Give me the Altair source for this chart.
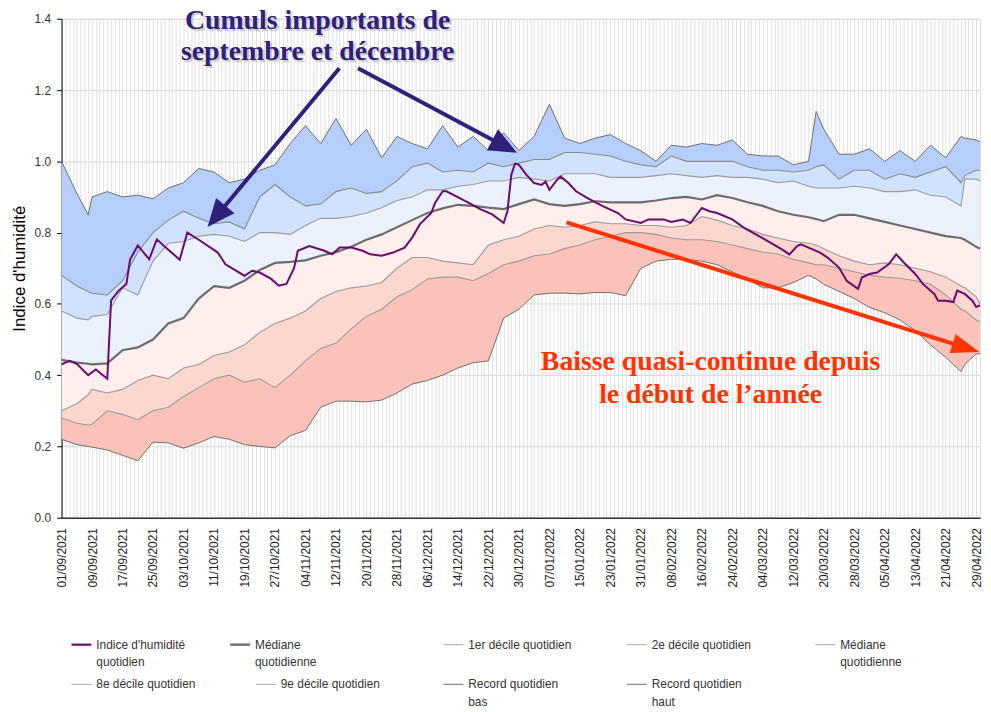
import math
import altair as alt
import pandas as pd

# ---------------- data ----------------
START_DATE = "2021-09-01"  # day 0
days = [0, 4, 7, 8, 12, 16, 20, 24, 28, 32, 36, 40, 44, 48, 52, 56, 60, 64, 68, 72,
        76, 80, 84, 88, 92, 96, 100, 104, 108, 112, 116, 120, 124, 128, 132, 136, 140, 144, 148, 152,
        156, 160, 164, 168, 172, 176, 180, 184, 188, 192, 196, 198, 200, 204, 208, 212, 216, 220, 224, 228,
        232, 236, 237, 240, 241]
record_high = [1.00, 0.91, 0.85, 0.90, 0.915, 0.90, 0.905, 0.895, 0.925, 0.94,
               0.98, 0.97, 0.94, 0.95, 0.975, 0.99, 1.05, 1.10, 1.05, 1.12,
               1.045, 1.09, 1.01, 1.07, 1.05, 1.035, 1.10, 1.04, 1.07, 1.03,
               1.08, 1.03, 1.07, 1.16, 1.065, 1.05, 1.065, 1.075, 1.05, 1.03,
               1.00, 1.045, 1.04, 1.05, 1.045, 1.06, 1.02, 1.015, 1.015, 0.99,
               1.00, 1.14, 1.09, 1.02, 1.02, 1.035, 1.00, 1.03, 1.00, 1.045,
               1.01, 1.07, 1.065, 1.06, 1.055]
decile9 = [0.68, 0.65, 0.635, 0.63, 0.625, 0.665, 0.745, 0.80, 0.835, 0.86,
           0.84, 0.825, 0.83, 0.81, 0.90, 0.935, 0.90, 0.875, 0.88, 0.915,
           0.925, 0.91, 0.915, 0.945, 0.985, 0.995, 0.97, 0.975, 0.97, 0.995,
           0.985, 0.995, 1.005, 1.005, 1.025, 1.025, 1.02, 1.015, 1.0, 0.99,
           0.985, 1.015, 1.0, 1.0, 1.0, 1.0, 0.985, 0.975, 0.975, 0.97,
           0.975, 0.985, 0.99, 0.95, 0.975, 0.975, 0.95, 0.965, 0.955, 0.97,
           0.985, 0.94, 0.96, 0.975, 0.975]
decile8 = [0.58, 0.56, 0.555, 0.565, 0.57, 0.645, 0.625, 0.72, 0.77, 0.775,
           0.79, 0.795, 0.79, 0.775, 0.80, 0.80, 0.795, 0.82, 0.84, 0.84,
           0.845, 0.855, 0.87, 0.89, 0.90, 0.92, 0.92, 0.93, 0.935, 0.945,
           0.945, 0.955, 0.95, 0.945, 0.965, 0.965, 0.965, 0.955, 0.955, 0.955,
           0.96, 0.965, 0.96, 0.955, 0.96, 0.955, 0.955, 0.95, 0.94, 0.945,
           0.93, 0.925, 0.925, 0.925, 0.93, 0.925, 0.915, 0.915, 0.92, 0.905,
           0.90, 0.875, 0.95, 0.95, 0.945]
median = [0.443, 0.435, 0.432, 0.43, 0.433, 0.47, 0.478, 0.50, 0.545, 0.56,
          0.615, 0.65, 0.645, 0.665, 0.695, 0.715, 0.718, 0.722, 0.735, 0.745,
          0.76, 0.78, 0.795, 0.815, 0.835, 0.855, 0.868, 0.878, 0.875, 0.87,
          0.866, 0.88, 0.893, 0.88, 0.875, 0.88, 0.888, 0.885, 0.885, 0.885,
          0.89, 0.897, 0.90, 0.893, 0.905, 0.897, 0.885, 0.875, 0.86, 0.85,
          0.843, 0.838, 0.832, 0.85, 0.85, 0.84, 0.83, 0.82, 0.81, 0.80,
          0.79, 0.785, 0.78, 0.76, 0.755]
decile2 = [0.30, 0.32, 0.345, 0.36, 0.35, 0.36, 0.385, 0.40, 0.39, 0.42,
           0.43, 0.455, 0.465, 0.485, 0.52, 0.545, 0.56, 0.58, 0.615, 0.635,
           0.645, 0.65, 0.66, 0.70, 0.73, 0.73, 0.72, 0.715, 0.71, 0.765,
           0.78, 0.79, 0.81, 0.82, 0.815, 0.82, 0.83, 0.825, 0.825, 0.82,
           0.82, 0.815, 0.82, 0.845, 0.835, 0.82, 0.81, 0.795, 0.785, 0.775,
           0.77, 0.765, 0.755, 0.735, 0.72, 0.71, 0.715, 0.71, 0.70, 0.69,
           0.675, 0.65, 0.645, 0.62, 0.60]
decile1 = [0.28, 0.265, 0.26, 0.262, 0.30, 0.29, 0.275, 0.30, 0.31, 0.34,
           0.365, 0.39, 0.40, 0.38, 0.39, 0.365, 0.40, 0.44, 0.475, 0.49,
           0.53, 0.565, 0.585, 0.62, 0.64, 0.67, 0.675, 0.675, 0.665, 0.685,
           0.71, 0.72, 0.735, 0.74, 0.755, 0.765, 0.78, 0.79, 0.80, 0.80,
           0.795, 0.785, 0.78, 0.78, 0.775, 0.765, 0.755, 0.745, 0.74, 0.725,
           0.715, 0.71, 0.71, 0.70, 0.69, 0.68, 0.675, 0.672, 0.665, 0.655,
           0.625, 0.585, 0.58, 0.555, 0.55]
record_low = [0.22, 0.205, 0.20, 0.198, 0.19, 0.175, 0.16, 0.212, 0.21, 0.195,
              0.21, 0.228, 0.22, 0.205, 0.20, 0.196, 0.23, 0.245, 0.31, 0.327,
              0.327, 0.325, 0.33, 0.35, 0.375, 0.385, 0.40, 0.42, 0.435, 0.44,
              0.56, 0.585, 0.625, 0.63, 0.63, 0.628, 0.632, 0.632, 0.623, 0.70,
              0.72, 0.725, 0.725, 0.72, 0.71, 0.69, 0.67, 0.645, 0.645, 0.66,
              0.68, 0.67, 0.655, 0.635, 0.615, 0.59, 0.575, 0.555, 0.525, 0.485,
              0.45, 0.41, 0.43, 0.46, 0.46]

index_days = [0, 2, 4, 7, 9, 12, 13, 15, 17, 18, 20, 23, 25, 28, 31, 33, 36, 41, 43, 48,
              50, 52, 55, 57, 59, 61, 62, 65, 69, 71, 73, 76, 79, 81, 84, 87, 90, 92, 94, 97,
              98, 100, 101, 106, 110, 113, 116, 117, 118, 119, 120, 122, 124, 126, 127, 128, 130, 131, 133, 135,
              138, 142, 146, 148, 152, 154, 158, 160, 163, 165, 166, 168, 170, 172, 176, 179, 183, 186, 189, 191,
              193, 194, 196, 199, 201, 204, 206, 209, 210, 212, 214, 217, 219, 221, 224, 226, 229, 230, 232, 234,
              235, 237, 239, 240, 241]
index_values = [0.43, 0.44, 0.432, 0.40, 0.416, 0.39, 0.61, 0.637, 0.656, 0.725, 0.764, 0.725, 0.781, 0.752, 0.724, 0.80, 0.78, 0.744, 0.711, 0.679,
                0.693, 0.688, 0.67, 0.651, 0.656, 0.70, 0.749, 0.762, 0.749, 0.739, 0.758, 0.758, 0.749, 0.739, 0.735, 0.744, 0.758, 0.786, 0.823, 0.855,
                0.883, 0.916, 0.916, 0.888, 0.865, 0.851, 0.827, 0.86, 0.962, 0.994, 0.99, 0.962, 0.939, 0.934, 0.943, 0.92, 0.948, 0.957, 0.939, 0.916,
                0.897, 0.874, 0.855, 0.837, 0.827, 0.837, 0.837, 0.83, 0.837, 0.827, 0.841, 0.869, 0.86, 0.855, 0.837, 0.814, 0.79, 0.772, 0.753, 0.739,
                0.762, 0.767, 0.758, 0.744, 0.73, 0.702, 0.665, 0.642, 0.674, 0.684, 0.688, 0.711, 0.739, 0.716, 0.684, 0.656, 0.628, 0.609, 0.609, 0.605,
                0.637, 0.628, 0.609, 0.591, 0.596]

# annotation texts (positions in data units: day, value)
navy_texts = [("Cumuls importants de", 67.2, 1.372), ("septembre et décembre", 67.2, 1.285)]
red_texts = [("Baisse quasi-continue depuis", 170.3, 0.415), ("le début de l’année", 170.3, 0.323)]
# arrows: tail day, tail value, tip day, tip value
navy_arrows = [(72.9, 1.261, 38.3, 0.816), (77.8, 1.261, 119.5, 1.024)]
red_arrows = [(132.5, 0.829, 240.8, 0.465)]

legend_items = [
    ("Indice d'humidité\nquotidien", "#6b0a6e", 2.2, 10, 631),
    ("Médiane\nquotidienne", "#777777", 2.6, 170, 631),
    ("1er décile quotidien", "#a8a8a8", 1.0, 385, 631),
    ("2e décile quotidien", "#a8a8a8", 1.0, 570, 631),
    ("Médiane\nquotidienne", "#a8a8a8", 1.0, 760, 631),
    ("8e décile quotidien", "#a8a8a8", 1.0, 10, 671),
    ("9e décile quotidien", "#a8a8a8", 1.0, 196, 671),
    ("Record quotidien\nbas", "#6e6e6e", 1.0, 385, 671),
    ("Record quotidien\nhaut", "#6e6e6e", 1.0, 570, 671),
]

# ---------------- layout ----------------
W, H = 926, 503
XMAX, YMAX = 241, 1.4
PX_DAY = W / XMAX
PX_UNIT = H / YMAX
NAVY = "#30207a"
RED = "#ff3300"
FONT = "Liberation Sans"
SERIF = "Liberation Serif"

xscale = alt.Scale(domain=[0, XMAX], nice=False, zero=False)
yscale = alt.Scale(domain=[0, YMAX], nice=False)

x_axis = alt.Axis(
    values=list(range(0, XMAX + 1)),
    labelExpr="datum.value % 8 == 0 ? timeFormat(datetime(2021, 8, 1 + datum.value), '%d/%m/%Y') : ''",
    labelAngle=-90, labelOverlap=False, labelBound=False, labelFlush=False,
    labelFontSize=12, labelColor="#222222", labelFont=FONT, labelPadding=10,
    ticks=False, tickSize=0, grid=True, gridColor="#e0e0e0", gridWidth=1,
    domainColor="#333333", domainWidth=1.5, title=None,
)
y_axis = alt.Axis(
    values=[round(i * 0.2, 1) for i in range(8)], format=".1f",
    labelFontSize=12, labelColor="#333333", labelFont=FONT, labelPadding=6,
    tickSize=5, tickColor="#000000", domainColor="#000000", domainWidth=1,
    grid=True, gridColor="#d9d9d9", gridWidth=1,
    title="Indice d'humidité", titleFont=FONT, titleFontSize=17, titleFontWeight="normal",
    titleColor="#000000", titlePadding=6,
)


def X(field):
    return alt.X(field, type="quantitative", scale=xscale, axis=x_axis)


def Y(field):
    return alt.Y(field, type="quantitative", scale=yscale, axis=y_axis)


df = pd.DataFrame({"day": days, "rh": record_high, "d9": decile9, "d8": decile8,
                   "med": median, "d2": decile2, "d1": decile1, "rl": record_low})

band_defs = [("rh", "d9", "b1", "#b6cefa"), ("d9", "d8", "b2", "#d0e2fd"),
             ("d8", "med", "b3", "#ebf2fe"), ("med", "d2", "b4", "#feefec"),
             ("d2", "d1", "b5", "#fcd7d0"), ("d1", "rl", "b6", "#fbc2ba")]
rows = []
for top, bot, name, _c in band_defs:
    for d, t, b in zip(df["day"], df[top], df[bot]):
        rows.append({"day": d, "top": t, "bottom": b, "band": name})
bands_df = pd.DataFrame(rows)

bands = alt.Chart(bands_df).mark_area(opacity=1, interpolate="linear").encode(
    x=X("day"), y=Y("top"), y2="bottom",
    color=alt.Color("band:N", scale=alt.Scale(domain=[b[2] for b in band_defs],
                                              range=[b[3] for b in band_defs]), legend=None),
)

line_defs = [("rl", "#6e6e6e", 1.0), ("d1", "#9a9a9a", 1.1), ("d2", "#9a9a9a", 1.1),
             ("d8", "#9a9a9a", 1.1), ("d9", "#8a8a8a", 1.1), ("rh", "#6e6e6e", 1.0),
             ("med", "#6d6d6d", 2.2)]
lines = [alt.Chart(df).mark_line(color=c, strokeWidth=w).encode(x=X("day"), y=Y(f)) for f, c, w in line_defs]

idx_df = pd.DataFrame({"day": index_days, "value": index_values})
idx_line = alt.Chart(idx_df).mark_line(color="#6b0a6e", strokeWidth=2).encode(x=X("day"), y=Y("value"))


# ---- annotations ----
def text_layer(items, color, dx=0, dy=0, opacity=1.0):
    tdf = pd.DataFrame({"t": [i[0] for i in items], "day": [i[1] for i in items], "v": [i[2] for i in items]})
    return alt.Chart(tdf).mark_text(font=SERIF, fontWeight="bold", fontSize=28, align="center",
                                    baseline="alphabetic", color=color, dx=dx, dy=dy,
                                    opacity=opacity).encode(x=X("day"), y=Y("v"), text="t:N")


def arrow_layers(arrs, color, width, head_len, half_w, opacity=1.0):
    out = []
    for (d0, v0, d1, v1) in arrs:
        pdx = (d1 - d0) * PX_DAY
        pdy = -(v1 - v0) * PX_UNIT
        L = math.hypot(pdx, pdy)
        ang = math.degrees(math.atan2(pdx, -pdy)) % 360
        back = head_len * 0.7
        de = d1 - (pdx / L * back) / PX_DAY
        ve = v1 + (pdy / L * back) / PX_UNIT
        seg = pd.DataFrame({"d0": [d0], "v0": [v0], "d1": [de], "v1": [ve]})
        out.append(alt.Chart(seg).mark_rule(color=color, strokeWidth=width, opacity=opacity,
                                            strokeCap="butt").encode(
            x=X("d0"), y=Y("v0"), x2="d1", y2="v1"))
        u = head_len / 2.0
        shape = f"M0,0 L{half_w / u:.3f},2 L{-half_w / u:.3f},2 Z"
        tip = pd.DataFrame({"d": [d1], "v": [v1]})
        out.append(alt.Chart(tip).mark_point(shape=shape, size=head_len ** 2, filled=True, color=color,
                                             opacity=opacity, strokeWidth=0, angle=ang).encode(
            x=X("d"), y=Y("v")))
    return out


annots = []
annots.append(text_layer(navy_texts, "#9a9a9a", dx=2, dy=2, opacity=0.45))
annots.append(text_layer(navy_texts, NAVY))
annots += arrow_layers(navy_arrows, NAVY, 4, 28, 12)
annots += arrow_layers(red_arrows, RED, 4, 28, 10)
annots.append(text_layer(red_texts, RED))

# ---- legend ----
legend_layers = []
dummy = alt.Data(values=[{"k": 1}])
for label, color, width, lx, ly in legend_items:
    legend_layers.append(alt.Chart(dummy).mark_rule(color=color, strokeWidth=width).encode(
        x=alt.value(lx), x2=alt.value(lx + 20), y=alt.value(ly)))
    legend_layers.append(alt.Chart(dummy).mark_text(
        align="left", baseline="alphabetic", font=FONT, fontSize=12, color="#333333",
        lineBreak="\n", lineHeight=18).encode(
        x=alt.value(lx + 25), y=alt.value(ly + 4), text=alt.value(label)))

chart = alt.layer(bands, *lines, idx_line, *annots, *legend_layers).properties(
    width=W, height=H,
    padding={"left": 54, "top": 8, "right": 3, "bottom": 190},
    autosize=alt.AutoSizeParams(type="none"),
).configure_view(stroke="#666666", strokeWidth=1).configure(font=FONT)

chart.save("out.html", embed_options={"renderer": "svg", "actions": False})
